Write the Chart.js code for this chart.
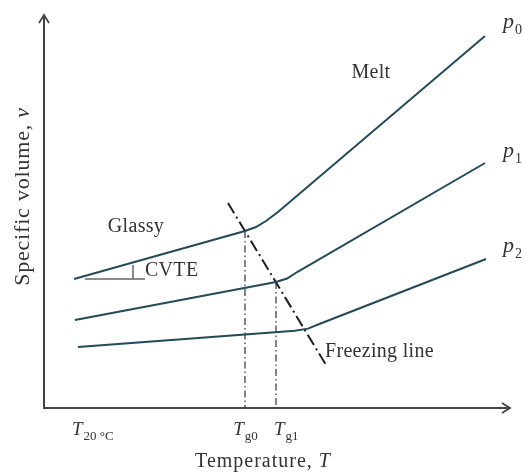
<!DOCTYPE html>
<html>
<head>
<meta charset="utf-8">
<script src="https://cdn.jsdelivr.net/npm/chart.js@4/dist/chart.umd.min.js"></script>
<style>
  html, body { margin: 0; padding: 0; background: #fff; }
  canvas { display: block; }
</style>
</head>
<body>
<canvas id="c" width="524" height="472"></canvas>
<script>
// Specific volume v against temperature T at three pressures (schematic units, 0–100)
const p0T = [6.44, 43.13, 45.49, 47.64, 50.21, 94.64];
const p0V = [32.82, 45.04, 46.06, 47.58, 49.87, 94.66];
const p1T = [6.65, 49.79, 52.15, 54.51, 94.64];
const p1V = [22.39, 32.06, 32.95, 34.73, 62.34];
const p2T = [7.30, 53.86, 56.65, 59.23, 94.85];
const p2V = [15.52, 19.67, 20.20, 21.45, 37.91];

// Freezing line through the glass-transition knees
const freezeT = [39.48, 60.52];
const freezeV = [52.16, 10.94];

// Glass transition temperatures and their volumes
const tgT = [43.13, 49.79];
const tgV = [45.04, 32.06];

// CVTE slope marker on the glassy branch
const cvteBaseT = [8.80, 21.67];
const cvteBaseV = [32.82, 32.82];
const cvteRiseT = [19.10, 19.10];
const cvteRiseV = [32.82, 36.39];

// Temperature tick labels: main letter + subscript
const tickT = [6.44, 43.13, 49.79];
const tickMain = ['T', 'T', 'T'];
const tickSub = ['20 °C', 'g0', 'g1'];

const seriesNames = ['p', 'p', 'p'];
const seriesSubs = ['0', '1', '2'];

const toPts = (xs, ys) => xs.map((x, i) => ({ x, y: ys[i] }));

const LINE = '#23495a';
const INK = '#333';
const SERIF = '"Liberation Serif", "DejaVu Serif", serif';

function richText(ctx, x, y, main, sub, size, subSize, align, italicMain) {
  ctx.font = (italicMain ? 'italic ' : '') + size + 'px ' + SERIF;
  const w1 = ctx.measureText(main).width;
  ctx.font = subSize + 'px ' + SERIF;
  const w2 = ctx.measureText(sub).width;
  let left = x;
  if (align === 'center') left = x - (w1 + w2) / 2;
  ctx.textAlign = 'left';
  ctx.textBaseline = 'alphabetic';
  ctx.font = (italicMain ? 'italic ' : '') + size + 'px ' + SERIF;
  ctx.fillText(main, left, y);
  ctx.font = subSize + 'px ' + SERIF;
  ctx.fillText(sub, left + w1 + 1, y + size * 0.28);
}

// Draws "plain + italic" centred at (cx, y) in the current transform
function mixedText(ctx, cx, y, plain, ital, size) {
  ctx.font = size + 'px ' + SERIF;
  const w1 = ctx.measureText(plain).width;
  ctx.font = 'italic ' + size + 'px ' + SERIF;
  const w2 = ctx.measureText(ital).width;
  const left = cx - (w1 + w2) / 2;
  ctx.textAlign = 'left';
  ctx.textBaseline = 'alphabetic';
  ctx.font = size + 'px ' + SERIF;
  ctx.fillText(plain, left, y);
  ctx.font = 'italic ' + size + 'px ' + SERIF;
  ctx.fillText(ital, left + w1, y);
}

const decor = {
  id: 'decor',
  beforeDatasetsDraw(chart) {
    const { ctx, chartArea: a } = chart;
    ctx.save();
    ctx.strokeStyle = '#444';
    ctx.lineWidth = 2;
    ctx.lineCap = 'butt';
    // axes
    ctx.beginPath();
    ctx.moveTo(a.left, a.top);
    ctx.lineTo(a.left, a.bottom);
    ctx.lineTo(a.right, a.bottom);
    ctx.stroke();
    // arrow heads
    ctx.lineWidth = 1.8;
    ctx.beginPath();
    ctx.moveTo(a.left - 5, a.top + 8);
    ctx.lineTo(a.left, a.top);
    ctx.lineTo(a.left + 5, a.top + 8);
    ctx.moveTo(a.right - 8, a.bottom - 5);
    ctx.lineTo(a.right, a.bottom);
    ctx.lineTo(a.right - 8, a.bottom + 5);
    ctx.stroke();
    ctx.restore();
  },
  afterDraw(chart) {
    const { ctx, chartArea: a } = chart;
    const xs = chart.scales.x, ys = chart.scales.y;
    const X = v => xs.getPixelForValue(v);
    const Y = v => ys.getPixelForValue(v);
    ctx.save();
    ctx.fillStyle = INK;

    // temperature ticks
    const tickAlign = ['left', 'center', 'left'];
    tickT.forEach((t, i) => {
      const px = X(t) + (tickAlign[i] === 'left' ? -2 : 0);
      richText(ctx, px, a.bottom + 27, tickMain[i], tickSub[i], 19, 13, tickAlign[i], true);
    });

    // axis titles
    ctx.letterSpacing = '1px';
    mixedText(ctx, (a.left + a.right) / 2 - 14, 467, 'Temperature, ', 'T', 20);

    ctx.save();
    ctx.translate(29, (a.top + a.bottom) / 2 - 15);
    ctx.rotate(-Math.PI / 2);
    ctx.letterSpacing = '0.8px';
    mixedText(ctx, 0, 0, 'Specific volume, ', 'v', 22);
    ctx.restore();

    // region / line annotations
    ctx.letterSpacing = '0.3px';
    ctx.font = '20px ' + SERIF;
    ctx.textAlign = 'center';
    ctx.textBaseline = 'middle';
    ctx.fillText('Glassy', X(19.74), Y(46.06));
    ctx.fillText('Melt', X(70.17), Y(85.24));
    ctx.textAlign = 'left';
    ctx.fillText('CVTE', X(21.67), Y(34.86));
    ctx.fillText('Freezing line', X(60.30), Y(14.25));

    // pressure labels
    ctx.letterSpacing = '0px';
    const labelV = [96.69, 63.87, 39.69];
    seriesNames.forEach((n, i) => {
      richText(ctx, X(98.5), Y(labelV[i]), n, seriesSubs[i], 22, 14, 'left', true);
    });
    ctx.restore();
  }
};

new Chart(document.getElementById('c'), {
  type: 'scatter',
  data: {
    datasets: [
      { data: toPts(p0T, p0V), borderColor: LINE, borderWidth: 2 },
      { data: toPts(p1T, p1V), borderColor: LINE, borderWidth: 2 },
      { data: toPts(p2T, p2V), borderColor: LINE, borderWidth: 2 },
      { data: toPts(freezeT, freezeV), borderColor: '#1e1e1e', borderWidth: 2, borderDash: [12, 4, 2, 4] },
      { data: [{ x: tgT[0], y: tgV[0] }, { x: tgT[0], y: 0 }], borderColor: '#333', borderWidth: 1.2, borderDash: [7, 3, 1.5, 3] },
      { data: [{ x: tgT[1], y: tgV[1] }, { x: tgT[1], y: 0 }], borderColor: '#333', borderWidth: 1.2, borderDash: [7, 3, 1.5, 3] },
      { data: toPts(cvteBaseT, cvteBaseV), borderColor: '#666', borderWidth: 1.5 },
      { data: toPts(cvteRiseT, cvteRiseV), borderColor: '#666', borderWidth: 1.5 }
    ].map(d => Object.assign({ showLine: true, pointRadius: 0, pointHoverRadius: 0, tension: 0, fill: false }, d))
  },
  options: {
    responsive: false,
    devicePixelRatio: 1,
    animation: false,
    layout: { padding: { left: 44, right: 14, top: 15, bottom: 64 } },
    plugins: { legend: { display: false }, tooltip: { enabled: false } },
    scales: {
      x: { type: 'linear', min: 0, max: 100, display: false },
      y: { type: 'linear', min: 0, max: 100, display: false }
    }
  },
  plugins: [decor]
});
</script>
</body>
</html>
